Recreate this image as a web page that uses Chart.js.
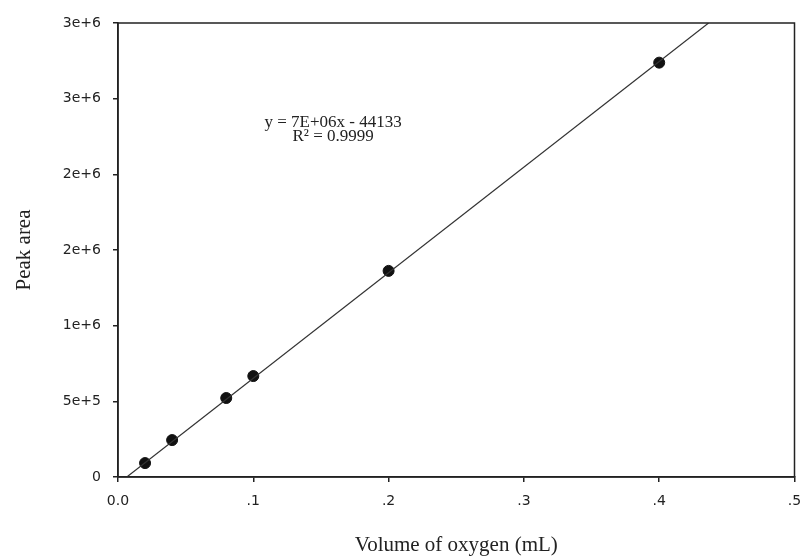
<!DOCTYPE html>
<html>
<head>
<meta charset="utf-8">
<script src="https://cdn.jsdelivr.net/npm/chart.js@4.4.1/dist/chart.umd.min.js"></script>
<style>
  html, body { margin: 0; padding: 0; background: #fff; }
  #wrap { width: 801px; height: 560px; }
</style>
</head>
<body>
<div id="wrap"><canvas id="chart" width="801" height="560"></canvas></div>
<script>
// measured points (volume of oxygen, peak area)
const volumeMl = [0.02, 0.04, 0.08, 0.1, 0.2, 0.4];
const peakArea = [92000, 244000, 522000, 667000, 1362000, 2738000];
// ends of the drawn fit line
const fitX = [0.0065, 0.4365];
const fitY = [0, 3000000];
const xTickLabels = ["0.0", ".1", ".2", ".3", ".4", ".5"];
const yTickLabels = ["0", "5e+5", "1e+6", "2e+6", "2e+6", "3e+6", "3e+6"];
const equationLines = ["y = 7E+06x - 44133", "R\u00b2 = 0.9999"];
const equationAt = { x: 0.159, y: 2340000 };

const AXIS_COLOR = "#222";
const TICK_FONT = { family: "DejaVu Sans", size: 14 };
const TITLE_FONT = { family: "Liberation Serif", size: 21 };

const framePlugin = {
  id: "frame",
  afterDraw(chart) {
    const { ctx, chartArea } = chart;
    ctx.save();
    ctx.strokeStyle = AXIS_COLOR;
    ctx.lineWidth = 1.5;
    ctx.strokeRect(chartArea.left, chartArea.top, chartArea.right - chartArea.left, chartArea.bottom - chartArea.top);
    // equation text
    const x = chart.scales.x.getPixelForValue(equationAt.x);
    const y = chart.scales.y.getPixelForValue(equationAt.y);
    ctx.fillStyle = "#222";
    ctx.font = "17px 'Liberation Serif'";
    ctx.textAlign = "center";
    ctx.textBaseline = "middle";
    equationLines.forEach((line, i) => ctx.fillText(line, x, y + i * 14));
    ctx.restore();
  },
};

const ctx = document.getElementById("chart").getContext("2d");
new Chart(ctx, {
  type: "scatter",
  data: {
    datasets: [
      {
        label: "Fit",
        type: "line",
        data: fitX.map((x, i) => ({ x, y: fitY[i] })),
        borderColor: "#333",
        borderWidth: 1.2,
        pointRadius: 0,
        fill: false,
      },
      {
        label: "Peak area",
        data: volumeMl.map((x, i) => ({ x, y: peakArea[i] })),
        backgroundColor: "#111",
        borderColor: "#111",
        pointRadius: 5.5,
      },
    ],
  },
  options: {
    responsive: false,
    animation: false,
    layout: { padding: { top: 23, right: 5, left: 0, bottom: 0 } },
    scales: {
      x: {
        type: "linear",
        min: 0,
        max: 0.5,
        ticks: {
          stepSize: 0.1,
          color: "#222",
          font: TICK_FONT,
          padding: 11,
          maxRotation: 0,
          callback: (v, i) => xTickLabels[i],
        },
        grid: { drawOnChartArea: false, tickLength: 5, color: AXIS_COLOR, lineWidth: 1.5 },
        border: { color: AXIS_COLOR, width: 1.5 },
        title: { display: true, text: "Volume of oxygen (mL)", color: "#222", font: TITLE_FONT, padding: { top: 0, bottom: 2 } },
        afterFit: (s) => { s.height = 83; s.paddingRight = 0; s.paddingLeft = 0; },
      },
      y: {
        type: "linear",
        min: 0,
        max: 3000000,
        ticks: {
          stepSize: 500000,
          color: "#222",
          font: TICK_FONT,
          padding: 12,
          callback: (v, i) => yTickLabels[i],
        },
        grid: { drawOnChartArea: false, tickLength: 5, color: AXIS_COLOR, lineWidth: 1.5 },
        border: { color: AXIS_COLOR, width: 1.5 },
        title: { display: true, text: "Peak area", color: "#222", font: TITLE_FONT, padding: { top: 12, bottom: 0 } },
        afterFit: (s) => { s.width = 118; s.paddingTop = 0; s.paddingBottom = 0; },
      },
    },
    plugins: {
      legend: { display: false },
      tooltip: { enabled: false },
    },
  },
  plugins: [framePlugin],
});
</script>
</body>
</html>
